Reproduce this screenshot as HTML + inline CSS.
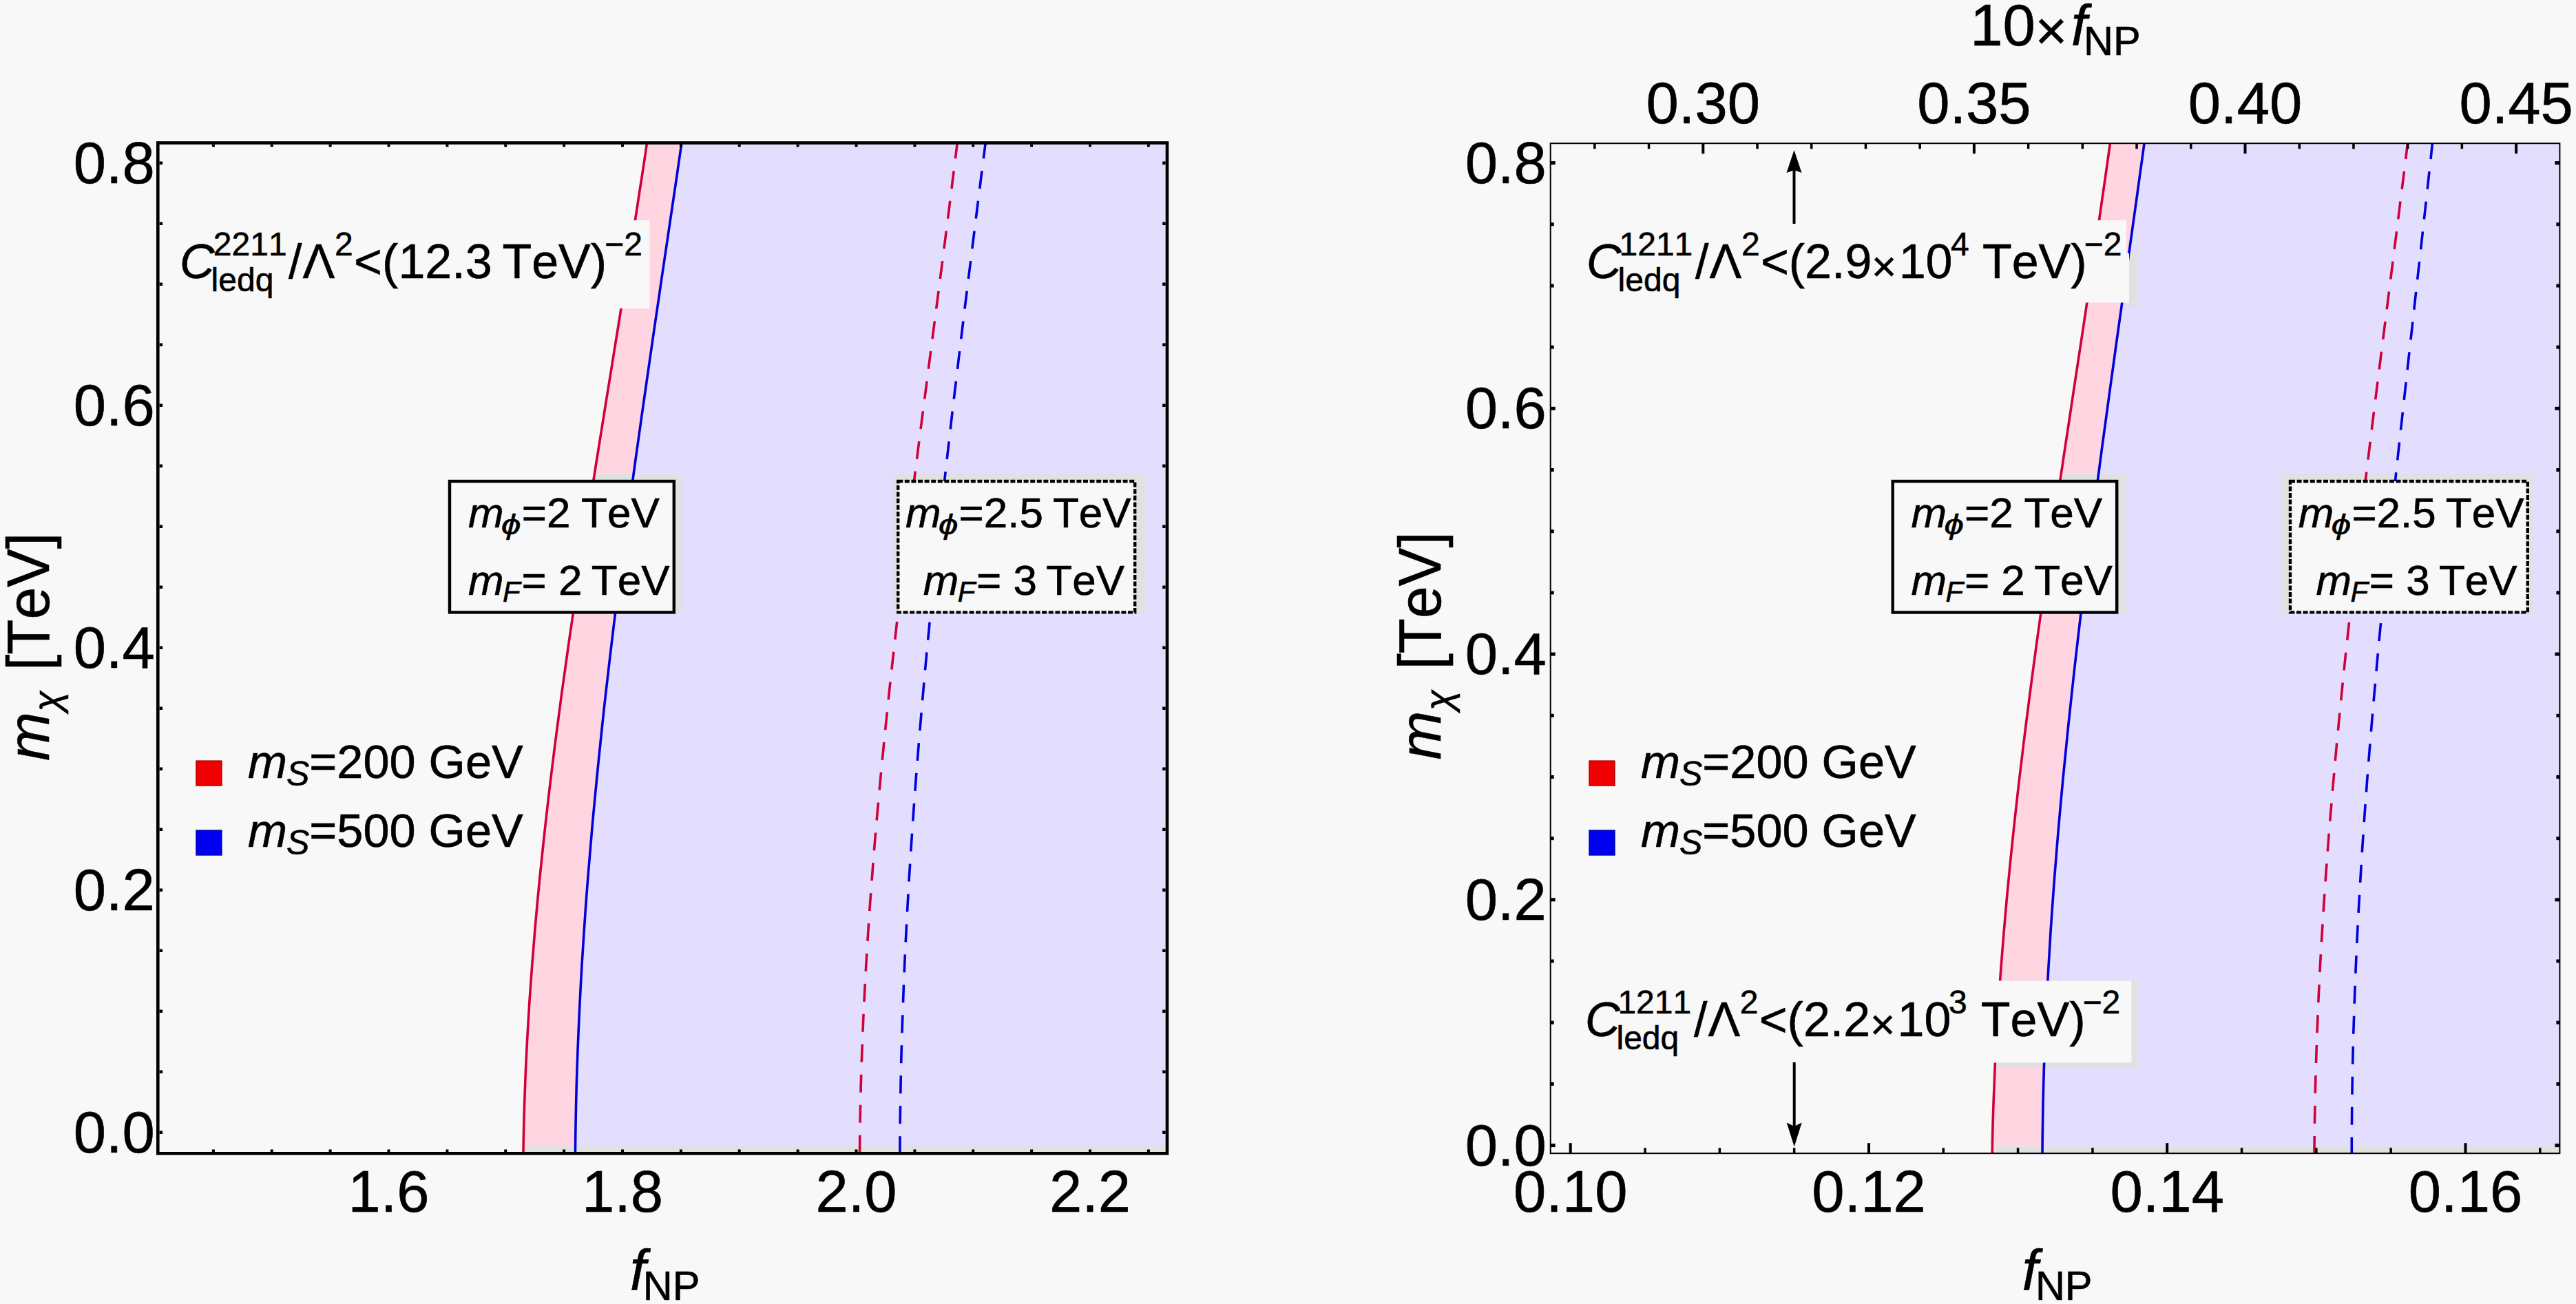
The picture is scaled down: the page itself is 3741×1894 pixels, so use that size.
<!DOCTYPE html><html><head><meta charset="utf-8"><style>html,body{margin:0;padding:0;background:#f8f8f8;overflow:hidden}svg{display:block}text{stroke:#000;stroke-width:0.6px}</style></head><body>
<svg width="3741" height="1894" viewBox="0 0 3741 1894" font-family="'Liberation Sans', sans-serif" fill="#000" style="font-kerning:none">
<rect x="0" y="0" width="3741" height="1894" fill="#f8f8f8"/>
<defs><clipPath id="clip229"><rect x="229.3" y="207.5" width="1465.7" height="1467.8"/></clipPath>
<clipPath id="fillclip229"><path d="M940.0,204.5 L936.3,229.2 L932.6,254.0 L928.8,278.7 L924.9,303.4 L921.1,328.2 L917.2,352.9 L913.2,377.7 L909.3,402.4 L905.3,427.1 L901.4,451.9 L897.4,476.6 L893.4,501.3 L889.4,526.1 L885.4,550.8 L881.4,575.6 L877.4,600.3 L873.5,625.0 L869.5,649.8 L865.6,674.5 L861.6,699.2 L857.7,724.0 L853.9,748.7 L850.0,773.5 L846.2,798.2 L842.4,822.9 L838.7,847.7 L835.0,872.4 L831.3,897.1 L827.7,921.9 L824.2,946.6 L820.7,971.4 L817.3,996.1 L813.9,1020.8 L810.6,1045.6 L807.4,1070.3 L804.3,1095.0 L801.2,1119.8 L798.2,1144.5 L795.3,1169.3 L792.5,1194.0 L789.8,1218.7 L787.1,1243.5 L784.6,1268.2 L782.1,1292.9 L779.8,1317.7 L777.6,1342.4 L775.5,1367.2 L773.5,1391.9 L771.6,1416.6 L769.9,1441.4 L768.2,1466.1 L766.7,1490.8 L765.4,1515.6 L764.1,1540.3 L763.0,1565.1 L762.1,1589.8 L761.3,1614.5 L760.6,1639.3 L760.1,1664.0 L1698.0,1664.0 L1698.0,204.5 Z"/></clipPath></defs>
<g clip-path="url(#clip229)">
<path d="M940.0,204.5 L936.3,229.2 L932.6,254.0 L928.8,278.7 L924.9,303.4 L921.1,328.2 L917.2,352.9 L913.2,377.7 L909.3,402.4 L905.3,427.1 L901.4,451.9 L897.4,476.6 L893.4,501.3 L889.4,526.1 L885.4,550.8 L881.4,575.6 L877.4,600.3 L873.5,625.0 L869.5,649.8 L865.6,674.5 L861.6,699.2 L857.7,724.0 L853.9,748.7 L850.0,773.5 L846.2,798.2 L842.4,822.9 L838.7,847.7 L835.0,872.4 L831.3,897.1 L827.7,921.9 L824.2,946.6 L820.7,971.4 L817.3,996.1 L813.9,1020.8 L810.6,1045.6 L807.4,1070.3 L804.3,1095.0 L801.2,1119.8 L798.2,1144.5 L795.3,1169.3 L792.5,1194.0 L789.8,1218.7 L787.1,1243.5 L784.6,1268.2 L782.1,1292.9 L779.8,1317.7 L777.6,1342.4 L775.5,1367.2 L773.5,1391.9 L771.6,1416.6 L769.9,1441.4 L768.2,1466.1 L766.7,1490.8 L765.4,1515.6 L764.1,1540.3 L763.0,1565.1 L762.1,1589.8 L761.3,1614.5 L760.6,1639.3 L760.1,1664.0 L835.6,1664.0 L835.9,1639.3 L836.4,1614.5 L836.9,1589.8 L837.6,1565.1 L838.4,1540.3 L839.4,1515.6 L840.4,1490.8 L841.5,1466.1 L842.8,1441.4 L844.2,1416.6 L845.6,1391.9 L847.2,1367.2 L848.8,1342.4 L850.6,1317.7 L852.4,1292.9 L854.4,1268.2 L856.4,1243.5 L858.5,1218.7 L860.7,1194.0 L863.0,1169.3 L865.3,1144.5 L867.8,1119.8 L870.3,1095.0 L872.9,1070.3 L875.5,1045.6 L878.2,1020.8 L881.0,996.1 L883.9,971.4 L886.8,946.6 L889.7,921.9 L892.7,897.1 L895.8,872.4 L898.9,847.7 L902.1,822.9 L905.3,798.2 L908.6,773.5 L911.9,748.7 L915.2,724.0 L918.6,699.2 L922.0,674.5 L925.5,649.8 L929.0,625.0 L932.5,600.3 L936.0,575.6 L939.6,550.8 L943.1,526.1 L946.7,501.3 L950.3,476.6 L954.0,451.9 L957.6,427.1 L961.2,402.4 L964.9,377.7 L968.5,352.9 L972.2,328.2 L975.8,303.4 L979.5,278.7 L983.1,254.0 L986.8,229.2 L990.4,204.5 Z" fill="#ffd5e2"/>
<path d="M990.4,204.5 L986.8,229.2 L983.1,254.0 L979.5,278.7 L975.8,303.4 L972.2,328.2 L968.5,352.9 L964.9,377.7 L961.2,402.4 L957.6,427.1 L954.0,451.9 L950.3,476.6 L946.7,501.3 L943.1,526.1 L939.6,550.8 L936.0,575.6 L932.5,600.3 L929.0,625.0 L925.5,649.8 L922.0,674.5 L918.6,699.2 L915.2,724.0 L911.9,748.7 L908.6,773.5 L905.3,798.2 L902.1,822.9 L898.9,847.7 L895.8,872.4 L892.7,897.1 L889.7,921.9 L886.8,946.6 L883.9,971.4 L881.0,996.1 L878.2,1020.8 L875.5,1045.6 L872.9,1070.3 L870.3,1095.0 L867.8,1119.8 L865.3,1144.5 L863.0,1169.3 L860.7,1194.0 L858.5,1218.7 L856.4,1243.5 L854.4,1268.2 L852.4,1292.9 L850.6,1317.7 L848.8,1342.4 L847.2,1367.2 L845.6,1391.9 L844.2,1416.6 L842.8,1441.4 L841.5,1466.1 L840.4,1490.8 L839.4,1515.6 L838.4,1540.3 L837.6,1565.1 L836.9,1589.8 L836.4,1614.5 L835.9,1639.3 L835.6,1664.0 L1698.0,1664.0 L1698.0,204.5 Z" fill="#e3defe"/>
<rect x="760.1" y="1664.0" width="939.9" height="16.3" fill="#e1e1e1"/>
<g clip-path="url(#fillclip229)">
<rect x="642" y="688" width="349" height="204" fill="#e1e1e1"/>
<rect x="1297" y="688" width="367" height="204" fill="#e1e1e1"/>
</g>
<path d="M940.0,204.5 L936.3,229.5 L932.5,254.5 L928.6,279.4 L924.8,304.4 L920.9,329.4 L916.9,354.4 L913.0,379.4 L909.0,404.3 L905.0,429.3 L901.0,454.3 L897.0,479.3 L892.9,504.3 L888.9,529.2 L884.9,554.2 L880.8,579.2 L876.8,604.2 L872.8,629.2 L868.8,654.1 L864.8,679.1 L860.9,704.1 L856.9,729.1 L853.0,754.1 L849.1,779.0 L845.3,804.0 L841.5,829.0 L837.7,854.0 L834.0,879.0 L830.4,903.9 L826.7,928.9 L823.2,953.9 L819.7,978.9 L816.2,1003.8 L812.9,1028.8 L809.6,1053.8 L806.3,1078.8 L803.2,1103.8 L800.1,1128.7 L797.1,1153.7 L794.2,1178.7 L791.4,1203.7 L788.7,1228.7 L786.1,1253.6 L783.5,1278.6 L781.1,1303.6 L778.8,1328.6 L776.6,1353.6 L774.6,1378.5 L772.6,1403.5 L770.8,1428.5 L769.0,1453.5 L767.5,1478.5 L766.0,1503.4 L764.7,1528.4 L763.5,1553.4 L762.5,1578.4 L761.6,1603.4 L760.9,1628.3 L760.3,1653.3 L759.9,1678.3" fill="none" stroke="#d0003a" stroke-width="3.6"/>
<path d="M990.4,204.5 L986.7,229.5 L983.1,254.5 L979.4,279.4 L975.7,304.4 L972.0,329.4 L968.3,354.4 L964.6,379.4 L960.9,404.3 L957.3,429.3 L953.6,454.3 L949.9,479.3 L946.3,504.3 L942.7,529.2 L939.1,554.2 L935.5,579.2 L931.9,604.2 L928.4,629.2 L924.9,654.1 L921.4,679.1 L918.0,704.1 L914.6,729.1 L911.2,754.1 L907.9,779.0 L904.6,804.0 L901.3,829.0 L898.1,854.0 L895.0,879.0 L891.9,903.9 L888.9,928.9 L885.9,953.9 L883.0,978.9 L880.1,1003.8 L877.3,1028.8 L874.6,1053.8 L872.0,1078.8 L869.4,1103.8 L866.9,1128.7 L864.5,1153.7 L862.1,1178.7 L859.8,1203.7 L857.7,1228.7 L855.6,1253.6 L853.5,1278.6 L851.6,1303.6 L849.8,1328.6 L848.1,1353.6 L846.5,1378.5 L844.9,1403.5 L843.5,1428.5 L842.2,1453.5 L841.0,1478.5 L839.9,1503.4 L838.9,1528.4 L838.0,1553.4 L837.2,1578.4 L836.6,1603.4 L836.1,1628.3 L835.7,1653.3 L835.4,1678.3" fill="none" stroke="#0000dc" stroke-width="3.6"/>
<path d="M1390.6,204.5 L1387.5,229.5 L1384.4,254.5 L1381.3,279.4 L1378.2,304.4 L1375.0,329.4 L1371.8,354.4 L1368.6,379.4 L1365.4,404.3 L1362.2,429.3 L1358.9,454.3 L1355.7,479.3 L1352.5,504.3 L1349.2,529.2 L1346.0,554.2 L1342.8,579.2 L1339.5,604.2 L1336.3,629.2 L1333.1,654.1 L1330.0,679.1 L1326.8,704.1 L1323.7,729.1 L1320.6,754.1 L1317.5,779.0 L1314.5,804.0 L1311.4,829.0 L1308.5,854.0 L1305.5,879.0 L1302.6,903.9 L1299.8,928.9 L1297.0,953.9 L1294.2,978.9 L1291.5,1003.8 L1288.9,1028.8 L1286.3,1053.8 L1283.8,1078.8 L1281.3,1103.8 L1278.9,1128.7 L1276.6,1153.7 L1274.3,1178.7 L1272.1,1203.7 L1270.0,1228.7 L1268.0,1253.6 L1266.1,1278.6 L1264.2,1303.6 L1262.4,1328.6 L1260.8,1353.6 L1259.2,1378.5 L1257.7,1403.5 L1256.3,1428.5 L1255.0,1453.5 L1253.8,1478.5 L1252.8,1503.4 L1251.8,1528.4 L1250.9,1553.4 L1250.2,1578.4 L1249.6,1603.4 L1249.1,1628.3 L1248.7,1653.3 L1248.5,1678.3" fill="none" stroke="#d0003a" stroke-width="3.6" stroke-dasharray="26 18"/>
<path d="M1431.6,204.5 L1428.4,229.5 L1425.2,254.5 L1422.1,279.4 L1418.9,304.4 L1415.8,329.4 L1412.7,354.4 L1409.6,379.4 L1406.5,404.3 L1403.4,429.3 L1400.3,454.3 L1397.3,479.3 L1394.3,504.3 L1391.3,529.2 L1388.3,554.2 L1385.3,579.2 L1382.4,604.2 L1379.5,629.2 L1376.7,654.1 L1373.8,679.1 L1371.0,704.1 L1368.3,729.1 L1365.6,754.1 L1362.9,779.0 L1360.2,804.0 L1357.6,829.0 L1355.1,854.0 L1352.6,879.0 L1350.1,903.9 L1347.7,928.9 L1345.3,953.9 L1343.0,978.9 L1340.8,1003.8 L1338.6,1028.8 L1336.5,1053.8 L1334.4,1078.8 L1332.4,1103.8 L1330.4,1128.7 L1328.5,1153.7 L1326.7,1178.7 L1325.0,1203.7 L1323.3,1228.7 L1321.7,1253.6 L1320.1,1278.6 L1318.7,1303.6 L1317.3,1328.6 L1316.0,1353.6 L1314.7,1378.5 L1313.6,1403.5 L1312.5,1428.5 L1311.6,1453.5 L1310.7,1478.5 L1309.9,1503.4 L1309.1,1528.4 L1308.5,1553.4 L1308.0,1578.4 L1307.6,1603.4 L1307.2,1628.3 L1307.0,1653.3 L1306.9,1678.3" fill="none" stroke="#0000dc" stroke-width="3.6" stroke-dasharray="26 18"/>
<rect x="255" y="320" width="688.5" height="128" fill="#f8f8f8"/>
</g>
<defs><clipPath id="clip2251"><rect x="2251.7" y="208.2" width="1465.7" height="1467.0"/></clipPath>
<clipPath id="fillclip2251"><path d="M3064.8,205.2 L3061.3,229.9 L3057.9,254.6 L3054.3,279.4 L3050.8,304.1 L3047.2,328.8 L3043.6,353.5 L3039.9,378.2 L3036.3,402.9 L3032.6,427.7 L3028.9,452.4 L3025.2,477.1 L3021.4,501.8 L3017.7,526.5 L3013.9,551.3 L3010.2,576.0 L3006.5,600.7 L3002.7,625.4 L2999.0,650.1 L2995.3,674.9 L2991.6,699.6 L2987.9,724.3 L2984.2,749.0 L2980.6,773.7 L2977.0,798.4 L2973.4,823.2 L2969.8,847.9 L2966.3,872.6 L2962.8,897.3 L2959.4,922.0 L2956.0,946.8 L2952.7,971.5 L2949.4,996.2 L2946.2,1020.9 L2943.1,1045.6 L2940.0,1070.4 L2937.0,1095.1 L2934.0,1119.8 L2931.1,1144.5 L2928.3,1169.2 L2925.6,1193.9 L2922.9,1218.7 L2920.4,1243.4 L2917.9,1268.1 L2915.6,1292.8 L2913.3,1317.5 L2911.1,1342.3 L2909.0,1367.0 L2907.1,1391.7 L2905.2,1416.4 L2903.5,1441.1 L2901.8,1465.9 L2900.3,1490.6 L2898.9,1515.3 L2897.7,1540.0 L2896.5,1564.7 L2895.5,1589.4 L2894.7,1614.2 L2893.9,1638.9 L2893.3,1663.6 L3720.4,1663.6 L3720.4,205.2 Z"/></clipPath></defs>
<g clip-path="url(#clip2251)">
<path d="M3064.8,205.2 L3061.3,229.9 L3057.9,254.6 L3054.3,279.4 L3050.8,304.1 L3047.2,328.8 L3043.6,353.5 L3039.9,378.2 L3036.3,402.9 L3032.6,427.7 L3028.9,452.4 L3025.2,477.1 L3021.4,501.8 L3017.7,526.5 L3013.9,551.3 L3010.2,576.0 L3006.5,600.7 L3002.7,625.4 L2999.0,650.1 L2995.3,674.9 L2991.6,699.6 L2987.9,724.3 L2984.2,749.0 L2980.6,773.7 L2977.0,798.4 L2973.4,823.2 L2969.8,847.9 L2966.3,872.6 L2962.8,897.3 L2959.4,922.0 L2956.0,946.8 L2952.7,971.5 L2949.4,996.2 L2946.2,1020.9 L2943.1,1045.6 L2940.0,1070.4 L2937.0,1095.1 L2934.0,1119.8 L2931.1,1144.5 L2928.3,1169.2 L2925.6,1193.9 L2922.9,1218.7 L2920.4,1243.4 L2917.9,1268.1 L2915.6,1292.8 L2913.3,1317.5 L2911.1,1342.3 L2909.0,1367.0 L2907.1,1391.7 L2905.2,1416.4 L2903.5,1441.1 L2901.8,1465.9 L2900.3,1490.6 L2898.9,1515.3 L2897.7,1540.0 L2896.5,1564.7 L2895.5,1589.4 L2894.7,1614.2 L2893.9,1638.9 L2893.3,1663.6 L2966.1,1663.6 L2966.4,1638.9 L2966.8,1614.2 L2967.3,1589.4 L2968.0,1564.7 L2968.8,1540.0 L2969.7,1515.3 L2970.7,1490.6 L2971.8,1465.9 L2973.0,1441.1 L2974.3,1416.4 L2975.7,1391.7 L2977.2,1367.0 L2978.8,1342.3 L2980.5,1317.5 L2982.3,1292.8 L2984.2,1268.1 L2986.1,1243.4 L2988.2,1218.7 L2990.3,1193.9 L2992.5,1169.2 L2994.8,1144.5 L2997.1,1119.8 L2999.5,1095.1 L3002.0,1070.4 L3004.6,1045.6 L3007.2,1020.9 L3009.9,996.2 L3012.7,971.5 L3015.5,946.8 L3018.3,922.0 L3021.2,897.3 L3024.2,872.6 L3027.2,847.9 L3030.3,823.2 L3033.4,798.4 L3036.5,773.7 L3039.7,749.0 L3042.9,724.3 L3046.2,699.6 L3049.4,674.9 L3052.7,650.1 L3056.1,625.4 L3059.4,600.7 L3062.8,576.0 L3066.2,551.3 L3069.6,526.5 L3073.0,501.8 L3076.5,477.1 L3079.9,452.4 L3083.4,427.7 L3086.9,402.9 L3090.3,378.2 L3093.8,353.5 L3097.2,328.8 L3100.7,304.1 L3104.2,279.4 L3107.6,254.6 L3111.0,229.9 L3114.4,205.2 Z" fill="#ffd5e2"/>
<path d="M3114.4,205.2 L3111.0,229.9 L3107.6,254.6 L3104.2,279.4 L3100.7,304.1 L3097.2,328.8 L3093.8,353.5 L3090.3,378.2 L3086.9,402.9 L3083.4,427.7 L3079.9,452.4 L3076.5,477.1 L3073.0,501.8 L3069.6,526.5 L3066.2,551.3 L3062.8,576.0 L3059.4,600.7 L3056.1,625.4 L3052.7,650.1 L3049.4,674.9 L3046.2,699.6 L3042.9,724.3 L3039.7,749.0 L3036.5,773.7 L3033.4,798.4 L3030.3,823.2 L3027.2,847.9 L3024.2,872.6 L3021.2,897.3 L3018.3,922.0 L3015.5,946.8 L3012.7,971.5 L3009.9,996.2 L3007.2,1020.9 L3004.6,1045.6 L3002.0,1070.4 L2999.5,1095.1 L2997.1,1119.8 L2994.8,1144.5 L2992.5,1169.2 L2990.3,1193.9 L2988.2,1218.7 L2986.1,1243.4 L2984.2,1268.1 L2982.3,1292.8 L2980.5,1317.5 L2978.8,1342.3 L2977.2,1367.0 L2975.7,1391.7 L2974.3,1416.4 L2973.0,1441.1 L2971.8,1465.9 L2970.7,1490.6 L2969.7,1515.3 L2968.8,1540.0 L2968.0,1564.7 L2967.3,1589.4 L2966.8,1614.2 L2966.4,1638.9 L2966.1,1663.6 L3720.4,1663.6 L3720.4,205.2 Z" fill="#e3defe"/>
<rect x="2893.3" y="1663.6" width="829.1" height="16.6" fill="#e1e1e1"/>
<g clip-path="url(#fillclip2251)">
<rect x="2738" y="688" width="350" height="204" fill="#e1e1e1"/>
<rect x="3312" y="688" width="367" height="204" fill="#e1e1e1"/>
<rect x="3092" y="368" width="11.5" height="79" fill="#e1e1e1"/>
<rect x="2290" y="1424" width="814" height="126" fill="#e1e1e1"/>
</g>
<path d="M3064.8,205.2 L3061.3,230.2 L3057.8,255.1 L3054.2,280.1 L3050.6,305.1 L3047.0,330.0 L3043.4,355.0 L3039.7,380.0 L3036.0,404.9 L3032.3,429.9 L3028.5,454.9 L3024.8,479.8 L3021.0,504.8 L3017.2,529.8 L3013.4,554.7 L3009.6,579.7 L3005.9,604.7 L3002.1,629.6 L2998.3,654.6 L2994.6,679.6 L2990.8,704.5 L2987.1,729.5 L2983.4,754.5 L2979.7,779.4 L2976.1,804.4 L2972.5,829.4 L2968.9,854.3 L2965.4,879.3 L2961.9,904.3 L2958.4,929.2 L2955.0,954.2 L2951.7,979.1 L2948.4,1004.1 L2945.2,1029.1 L2942.0,1054.0 L2938.9,1079.0 L2935.9,1104.0 L2932.9,1128.9 L2930.0,1153.9 L2927.2,1178.9 L2924.5,1203.8 L2921.9,1228.8 L2919.3,1253.8 L2916.9,1278.7 L2914.5,1303.7 L2912.3,1328.7 L2910.1,1353.6 L2908.1,1378.6 L2906.1,1403.6 L2904.3,1428.5 L2902.6,1453.5 L2901.0,1478.5 L2899.6,1503.4 L2898.2,1528.4 L2897.0,1553.4 L2896.0,1578.3 L2895.0,1603.3 L2894.2,1628.3 L2893.6,1653.2 L2893.1,1678.2" fill="none" stroke="#d0003a" stroke-width="3.6"/>
<path d="M3114.4,205.2 L3111.0,230.2 L3107.5,255.1 L3104.1,280.1 L3100.6,305.1 L3097.1,330.0 L3093.6,355.0 L3090.1,380.0 L3086.6,404.9 L3083.1,429.9 L3079.6,454.9 L3076.1,479.8 L3072.6,504.8 L3069.2,529.8 L3065.7,554.7 L3062.3,579.7 L3058.9,604.7 L3055.5,629.6 L3052.1,654.6 L3048.8,679.6 L3045.5,704.5 L3042.2,729.5 L3039.0,754.5 L3035.8,779.4 L3032.6,804.4 L3029.5,829.4 L3026.4,854.3 L3023.4,879.3 L3020.4,904.3 L3017.5,929.2 L3014.6,954.2 L3011.8,979.1 L3009.1,1004.1 L3006.4,1029.1 L3003.7,1054.0 L3001.2,1079.0 L2998.7,1104.0 L2996.2,1128.9 L2993.9,1153.9 L2991.6,1178.9 L2989.4,1203.8 L2987.3,1228.8 L2985.3,1253.8 L2983.3,1278.7 L2981.5,1303.7 L2979.7,1328.7 L2978.0,1353.6 L2976.5,1378.6 L2975.0,1403.6 L2973.6,1428.5 L2972.3,1453.5 L2971.2,1478.5 L2970.1,1503.4 L2969.2,1528.4 L2968.3,1553.4 L2967.6,1578.3 L2967.0,1603.3 L2966.6,1628.3 L2966.2,1653.2 L2966.0,1678.2" fill="none" stroke="#0000dc" stroke-width="3.6"/>
<path d="M3496.8,205.2 L3493.8,230.2 L3490.7,255.1 L3487.5,280.1 L3484.4,305.1 L3481.3,330.0 L3478.1,355.0 L3475.0,380.0 L3471.8,404.9 L3468.7,429.9 L3465.5,454.9 L3462.4,479.8 L3459.2,504.8 L3456.1,529.8 L3452.9,554.7 L3449.8,579.7 L3446.7,604.7 L3443.6,629.6 L3440.6,654.6 L3437.5,679.6 L3434.5,704.5 L3431.5,729.5 L3428.5,754.5 L3425.6,779.4 L3422.7,804.4 L3419.8,829.4 L3417.0,854.3 L3414.2,879.3 L3411.5,904.3 L3408.8,929.2 L3406.1,954.2 L3403.5,979.1 L3401.0,1004.1 L3398.5,1029.1 L3396.1,1054.0 L3393.7,1079.0 L3391.4,1104.0 L3389.2,1128.9 L3387.0,1153.9 L3384.9,1178.9 L3382.8,1203.8 L3380.9,1228.8 L3379.0,1253.8 L3377.2,1278.7 L3375.5,1303.7 L3373.8,1328.7 L3372.3,1353.6 L3370.8,1378.6 L3369.4,1403.6 L3368.1,1428.5 L3366.9,1453.5 L3365.9,1478.5 L3364.9,1503.4 L3364.0,1528.4 L3363.2,1553.4 L3362.5,1578.3 L3362.0,1603.3 L3361.5,1628.3 L3361.2,1653.2 L3360.9,1678.2" fill="none" stroke="#d0003a" stroke-width="3.6" stroke-dasharray="26 18"/>
<path d="M3532.7,205.2 L3530.1,230.2 L3527.3,255.1 L3524.6,280.1 L3521.9,305.1 L3519.1,330.0 L3516.4,355.0 L3513.6,380.0 L3510.8,404.9 L3508.0,429.9 L3505.3,454.9 L3502.5,479.8 L3499.7,504.8 L3496.9,529.8 L3494.2,554.7 L3491.4,579.7 L3488.7,604.7 L3485.9,629.6 L3483.2,654.6 L3480.5,679.6 L3477.9,704.5 L3475.2,729.5 L3472.6,754.5 L3470.0,779.4 L3467.5,804.4 L3464.9,829.4 L3462.4,854.3 L3460.0,879.3 L3457.6,904.3 L3455.2,929.2 L3452.9,954.2 L3450.6,979.1 L3448.4,1004.1 L3446.2,1029.1 L3444.1,1054.0 L3442.0,1079.0 L3440.0,1104.0 L3438.0,1128.9 L3436.2,1153.9 L3434.3,1178.9 L3432.6,1203.8 L3430.9,1228.8 L3429.3,1253.8 L3427.8,1278.7 L3426.3,1303.7 L3424.9,1328.7 L3423.6,1353.6 L3422.4,1378.6 L3421.3,1403.6 L3420.3,1428.5 L3419.3,1453.5 L3418.5,1478.5 L3417.7,1503.4 L3417.1,1528.4 L3416.5,1553.4 L3416.1,1578.3 L3415.7,1603.3 L3415.5,1628.3 L3415.3,1653.2 L3415.3,1678.2" fill="none" stroke="#0000dc" stroke-width="3.6" stroke-dasharray="26 18"/>
<rect x="2290" y="320" width="798" height="48" fill="#f8f8f8"/>
<rect x="2290" y="368" width="802" height="71.5" fill="#f8f8f8"/>
<rect x="2290" y="1424.5" width="805.5" height="119" fill="#f8f8f8"/>
</g>
<rect x="229.3" y="207.5" width="1465.7" height="1467.8" fill="none" stroke="#000" stroke-width="4.6"/>
<rect x="307.9" y="1669.5" width="4" height="3.5"/>
<rect x="307.9" y="209.8" width="4" height="3.5"/>
<rect x="392.7" y="1669.5" width="4" height="3.5"/>
<rect x="392.7" y="209.8" width="4" height="3.5"/>
<rect x="477.6" y="1669.5" width="4" height="3.5"/>
<rect x="477.6" y="209.8" width="4" height="3.5"/>
<rect x="562.5" y="1669.5" width="4" height="3.5"/>
<rect x="562.5" y="209.8" width="4" height="3.5"/>
<rect x="647.4" y="1669.5" width="4" height="3.5"/>
<rect x="647.4" y="209.8" width="4" height="3.5"/>
<rect x="732.2" y="1669.5" width="4" height="3.5"/>
<rect x="732.2" y="209.8" width="4" height="3.5"/>
<rect x="817.1" y="1669.5" width="4" height="3.5"/>
<rect x="817.1" y="209.8" width="4" height="3.5"/>
<rect x="902.0" y="1669.5" width="4" height="3.5"/>
<rect x="902.0" y="209.8" width="4" height="3.5"/>
<rect x="986.9" y="1669.5" width="4" height="3.5"/>
<rect x="986.9" y="209.8" width="4" height="3.5"/>
<rect x="1071.7" y="1669.5" width="4" height="3.5"/>
<rect x="1071.7" y="209.8" width="4" height="3.5"/>
<rect x="1156.6" y="1669.5" width="4" height="3.5"/>
<rect x="1156.6" y="209.8" width="4" height="3.5"/>
<rect x="1241.5" y="1669.5" width="4" height="3.5"/>
<rect x="1241.5" y="209.8" width="4" height="3.5"/>
<rect x="1326.4" y="1669.5" width="4" height="3.5"/>
<rect x="1326.4" y="209.8" width="4" height="3.5"/>
<rect x="1411.2" y="1669.5" width="4" height="3.5"/>
<rect x="1411.2" y="209.8" width="4" height="3.5"/>
<rect x="1496.1" y="1669.5" width="4" height="3.5"/>
<rect x="1496.1" y="209.8" width="4" height="3.5"/>
<rect x="1581.0" y="1669.5" width="4" height="3.5"/>
<rect x="1581.0" y="209.8" width="4" height="3.5"/>
<rect x="1665.9" y="1669.5" width="4" height="3.5"/>
<rect x="1665.9" y="209.8" width="4" height="3.5"/>
<rect x="231.6" y="1642.5" width="4.5" height="4.5"/>
<rect x="1688.2" y="1642.5" width="4.5" height="4.5"/>
<rect x="231.6" y="1554.5" width="4.5" height="4.5"/>
<rect x="1688.2" y="1554.5" width="4.5" height="4.5"/>
<rect x="231.6" y="1466.5" width="4.5" height="4.5"/>
<rect x="1688.2" y="1466.5" width="4.5" height="4.5"/>
<rect x="231.6" y="1378.5" width="4.5" height="4.5"/>
<rect x="1688.2" y="1378.5" width="4.5" height="4.5"/>
<rect x="231.6" y="1290.5" width="4.5" height="4.5"/>
<rect x="1688.2" y="1290.5" width="4.5" height="4.5"/>
<rect x="231.6" y="1202.5" width="4.5" height="4.5"/>
<rect x="1688.2" y="1202.5" width="4.5" height="4.5"/>
<rect x="231.6" y="1114.5" width="4.5" height="4.5"/>
<rect x="1688.2" y="1114.5" width="4.5" height="4.5"/>
<rect x="231.6" y="1026.5" width="4.5" height="4.5"/>
<rect x="1688.2" y="1026.5" width="4.5" height="4.5"/>
<rect x="231.6" y="938.5" width="4.5" height="4.5"/>
<rect x="1688.2" y="938.5" width="4.5" height="4.5"/>
<rect x="231.6" y="850.5" width="4.5" height="4.5"/>
<rect x="1688.2" y="850.5" width="4.5" height="4.5"/>
<rect x="231.6" y="762.5" width="4.5" height="4.5"/>
<rect x="1688.2" y="762.5" width="4.5" height="4.5"/>
<rect x="231.6" y="674.5" width="4.5" height="4.5"/>
<rect x="1688.2" y="674.5" width="4.5" height="4.5"/>
<rect x="231.6" y="586.5" width="4.5" height="4.5"/>
<rect x="1688.2" y="586.5" width="4.5" height="4.5"/>
<rect x="231.6" y="498.5" width="4.5" height="4.5"/>
<rect x="1688.2" y="498.5" width="4.5" height="4.5"/>
<rect x="231.6" y="410.5" width="4.5" height="4.5"/>
<rect x="1688.2" y="410.5" width="4.5" height="4.5"/>
<rect x="231.6" y="322.5" width="4.5" height="4.5"/>
<rect x="1688.2" y="322.5" width="4.5" height="4.5"/>
<rect x="231.6" y="234.5" width="4.5" height="4.5"/>
<rect x="1688.2" y="234.5" width="4.5" height="4.5"/>
<text x="224.8" y="1674.0" font-size="85" text-anchor="end">0.0</text>
<text x="224.8" y="1322.0" font-size="85" text-anchor="end">0.2</text>
<text x="224.8" y="970.0" font-size="85" text-anchor="end">0.4</text>
<text x="224.8" y="618.0" font-size="85" text-anchor="end">0.6</text>
<text x="224.8" y="266.0" font-size="85" text-anchor="end">0.8</text>
<text x="564.5" y="1760.3" font-size="85" text-anchor="middle">1.6</text>
<text x="904.0" y="1760.3" font-size="85" text-anchor="middle">1.8</text>
<text x="1243.5" y="1760.3" font-size="85" text-anchor="middle">2.0</text>
<text x="1583.0" y="1760.3" font-size="85" text-anchor="middle">2.2</text>
<rect x="2251.7" y="208.2" width="1465.7" height="1467.0" fill="none" stroke="#000" stroke-width="2.0"/>
<rect x="2278.7" y="1660.2" width="4" height="15"/>
<rect x="2387.3" y="1667.2" width="3.5" height="8"/>
<rect x="2495.6" y="1667.2" width="3.5" height="8"/>
<rect x="2603.9" y="1667.2" width="3.5" height="8"/>
<rect x="2712.0" y="1660.2" width="4" height="15"/>
<rect x="2820.5" y="1667.2" width="3.5" height="8"/>
<rect x="2928.8" y="1667.2" width="3.5" height="8"/>
<rect x="3037.2" y="1667.2" width="3.5" height="8"/>
<rect x="3145.2" y="1660.2" width="4" height="15"/>
<rect x="3253.8" y="1667.2" width="3.5" height="8"/>
<rect x="3362.1" y="1667.2" width="3.5" height="8"/>
<rect x="3470.4" y="1667.2" width="3.5" height="8"/>
<rect x="3578.5" y="1660.2" width="4" height="15"/>
<rect x="3687.0" y="1667.2" width="3.5" height="8"/>
<rect x="2314.1" y="208.2" width="3.5" height="8"/>
<rect x="2392.8" y="208.2" width="3.5" height="8"/>
<rect x="2471.3" y="208.2" width="4" height="15"/>
<rect x="2550.3" y="208.2" width="3.5" height="8"/>
<rect x="2629.0" y="208.2" width="3.5" height="8"/>
<rect x="2707.7" y="208.2" width="3.5" height="8"/>
<rect x="2786.4" y="208.2" width="3.5" height="8"/>
<rect x="2864.9" y="208.2" width="4" height="15"/>
<rect x="2943.9" y="208.2" width="3.5" height="8"/>
<rect x="3022.6" y="208.2" width="3.5" height="8"/>
<rect x="3101.3" y="208.2" width="3.5" height="8"/>
<rect x="3180.0" y="208.2" width="3.5" height="8"/>
<rect x="3258.5" y="208.2" width="4" height="15"/>
<rect x="3337.5" y="208.2" width="3.5" height="8"/>
<rect x="3416.2" y="208.2" width="3.5" height="8"/>
<rect x="3494.9" y="208.2" width="3.5" height="8"/>
<rect x="3573.6" y="208.2" width="3.5" height="8"/>
<rect x="3652.1" y="208.2" width="4" height="15"/>
<rect x="2251.7" y="1661.1" width="7" height="5"/>
<rect x="3710.4" y="1661.1" width="7" height="5"/>
<rect x="2251.7" y="1571.9" width="5" height="5"/>
<rect x="3712.4" y="1571.9" width="5" height="5"/>
<rect x="2251.7" y="1482.7" width="5" height="5"/>
<rect x="3712.4" y="1482.7" width="5" height="5"/>
<rect x="2251.7" y="1393.5" width="5" height="5"/>
<rect x="3712.4" y="1393.5" width="5" height="5"/>
<rect x="2251.7" y="1304.3" width="7" height="5"/>
<rect x="3710.4" y="1304.3" width="7" height="5"/>
<rect x="2251.7" y="1215.2" width="5" height="5"/>
<rect x="3712.4" y="1215.2" width="5" height="5"/>
<rect x="2251.7" y="1126.0" width="5" height="5"/>
<rect x="3712.4" y="1126.0" width="5" height="5"/>
<rect x="2251.7" y="1036.8" width="5" height="5"/>
<rect x="3712.4" y="1036.8" width="5" height="5"/>
<rect x="2251.7" y="947.6" width="7" height="5"/>
<rect x="3710.4" y="947.6" width="7" height="5"/>
<rect x="2251.7" y="858.4" width="5" height="5"/>
<rect x="3712.4" y="858.4" width="5" height="5"/>
<rect x="2251.7" y="769.2" width="5" height="5"/>
<rect x="3712.4" y="769.2" width="5" height="5"/>
<rect x="2251.7" y="680.0" width="5" height="5"/>
<rect x="3712.4" y="680.0" width="5" height="5"/>
<rect x="2251.7" y="590.8" width="7" height="5"/>
<rect x="3710.4" y="590.8" width="7" height="5"/>
<rect x="2251.7" y="501.7" width="5" height="5"/>
<rect x="3712.4" y="501.7" width="5" height="5"/>
<rect x="2251.7" y="412.5" width="5" height="5"/>
<rect x="3712.4" y="412.5" width="5" height="5"/>
<rect x="2251.7" y="323.3" width="5" height="5"/>
<rect x="3712.4" y="323.3" width="5" height="5"/>
<rect x="2251.7" y="234.1" width="7" height="5"/>
<rect x="3710.4" y="234.1" width="7" height="5"/>
<text x="2245.9" y="1692.7" font-size="85" text-anchor="end">0.0</text>
<text x="2245.9" y="1335.9" font-size="85" text-anchor="end">0.2</text>
<text x="2245.9" y="979.2" font-size="85" text-anchor="end">0.4</text>
<text x="2245.9" y="622.4" font-size="85" text-anchor="end">0.6</text>
<text x="2245.9" y="265.7" font-size="85" text-anchor="end">0.8</text>
<text x="2280.7" y="1760.3" font-size="85" text-anchor="middle">0.10</text>
<text x="2714.0" y="1760.3" font-size="85" text-anchor="middle">0.12</text>
<text x="3147.2" y="1760.3" font-size="85" text-anchor="middle">0.14</text>
<text x="3580.5" y="1760.3" font-size="85" text-anchor="middle">0.16</text>
<text x="2473.3" y="179.0" font-size="85" text-anchor="middle">0.30</text>
<text x="2866.9" y="179.0" font-size="85" text-anchor="middle">0.35</text>
<text x="3260.5" y="179.0" font-size="85" text-anchor="middle">0.40</text>
<text x="3654.1" y="179.0" font-size="85" text-anchor="middle">0.45</text>
<text x="914.8" y="1874.0" font-size="83" font-style="italic">f</text><text x="933.7" y="1888.4" font-size="59.5">NP</text>
<text x="2936.5" y="1874.0" font-size="83" font-style="italic">f</text><text x="2955.9" y="1888.4" font-size="59.5">NP</text>
<text x="2861.2" y="65.5" font-size="85">10</text>
<text x="2955.5" y="71.5" font-size="80">×</text>
<text x="3007.7" y="65.5" font-size="83" font-style="italic">f</text><text x="3026.1" y="79.8" font-size="59.5">NP</text>
<g transform="translate(71,1103.5) rotate(-90)"><text x="-1.4" y="0" font-size="85" font-style="italic">m</text><text x="70" y="15.5" font-size="55" font-style="italic">χ</text><text transform="translate(129.5,0) scale(0.952,1)" font-size="88">[TeV]</text></g>
<g transform="translate(2092,1102) rotate(-90)"><text x="-1.4" y="0" font-size="85" font-style="italic">m</text><text x="70" y="15.5" font-size="55" font-style="italic">χ</text><text transform="translate(129.5,0) scale(0.952,1)" font-size="88">[TeV]</text></g>
<text x="261.1" y="404.0" font-size="70" font-style="italic">C</text>
<text x="309.8" y="370.9" font-size="48">2211</text>
<text x="306.6" y="422.7" font-size="48">ledq</text>
<text x="419.0" y="404.0" font-size="70">/</text>
<text x="439.5" y="404.0" font-size="70">Λ</text>
<text x="485.9" y="370.9" font-size="48">2</text>
<text x="513.9" y="404.0" font-size="70"><</text>
<text x="555.1" y="404.0" font-size="70">(12.3</text>
<text x="729.4" y="404.0" font-size="70">TeV)</text>
<text x="878.1" y="370.9" font-size="48">−2</text>
<text x="2304.1" y="403.8" font-size="70" font-style="italic">C</text>
<text x="2351.5" y="370.7" font-size="48">1211</text>
<text x="2349.6" y="422.5" font-size="48">ledq</text>
<text x="2462.0" y="403.8" font-size="70">/</text>
<text x="2482.5" y="403.8" font-size="70">Λ</text>
<text x="2528.9" y="370.7" font-size="48">2</text>
<text x="2556.9" y="403.8" font-size="70"><</text>
<text x="2597.7" y="403.8" font-size="70">(2.9</text>
<text x="2718.0" y="408.3" font-size="62">×</text>
<text x="2757.7" y="403.8" font-size="70">10</text>
<text x="2832.9" y="370.7" font-size="48">4</text>
<text x="2878.9" y="403.8" font-size="70">TeV)</text>
<text x="3026.6" y="370.7" font-size="48">−2</text>
<text x="2302.0" y="1504.8" font-size="70" font-style="italic">C</text>
<text x="2349.4" y="1471.7" font-size="48">1211</text>
<text x="2347.5" y="1523.5" font-size="48">ledq</text>
<text x="2459.9" y="1504.8" font-size="70">/</text>
<text x="2480.4" y="1504.8" font-size="70">Λ</text>
<text x="2526.8" y="1471.7" font-size="48">2</text>
<text x="2554.8" y="1504.8" font-size="70"><</text>
<text x="2595.6" y="1504.8" font-size="70">(2.2</text>
<text x="2715.9" y="1509.3" font-size="62">×</text>
<text x="2755.6" y="1504.8" font-size="70">10</text>
<text x="2830.1" y="1471.7" font-size="48">3</text>
<text x="2876.8" y="1504.8" font-size="70">TeV)</text>
<text x="3024.5" y="1471.7" font-size="48">−2</text>
<rect x="2603.5" y="245" width="4" height="80"/>
<path d="M2605.5,218 L2616.5,251 L2605.5,247 L2594.5,251 Z"/>
<rect x="2603.7" y="1543" width="4" height="95"/>
<path d="M2605.7,1665.5 L2616.7,1630.6 L2605.7,1636 L2594.7,1630.6 Z"/>
<rect x="653.0" y="699.0" width="325.8" height="190.4" fill="#f8f8f8" stroke="#000" stroke-width="4.4"/>
<text x="680.1" y="765.5" font-size="62" font-style="italic">m</text>
<text transform="translate(728.1,775.6) scale(1.25,1)" font-size="40.8" font-style="italic">ϕ</text>
<text x="757.7" y="765.5" font-size="62">=2</text>
<text x="844.1" y="765.5" font-size="62">TeV</text>
<text x="680.1" y="864.3" font-size="62" font-style="italic">m</text>
<text x="730.1" y="874.3" font-size="42" font-style="italic">F</text>
<text x="757.5" y="864.3" font-size="62">= 2</text>
<text x="858.8" y="864.3" font-size="62">TeV</text>
<rect x="1304.2" y="699.0" width="344.0" height="190.4" fill="#f8f8f8" stroke="#000" stroke-width="4.4" stroke-dasharray="7 2.6"/>
<text x="1315.0" y="765.5" font-size="62" font-style="italic">m</text>
<text transform="translate(1363.0,775.6) scale(1.25,1)" font-size="40.8" font-style="italic">ϕ</text>
<text x="1392.6" y="765.5" font-size="62">=2.5</text>
<text x="1529.0" y="765.5" font-size="62">TeV</text>
<text x="1340.7" y="864.3" font-size="62" font-style="italic">m</text>
<text x="1390.7" y="874.3" font-size="42" font-style="italic">F</text>
<text x="1418.1" y="864.3" font-size="62">= 3</text>
<text x="1519.3" y="864.3" font-size="62">TeV</text>
<rect x="2748.7" y="699.0" width="325.5" height="190.5" fill="#f8f8f8" stroke="#000" stroke-width="4.4"/>
<text x="2775.5" y="765.5" font-size="62" font-style="italic">m</text>
<text transform="translate(2823.5,775.6) scale(1.25,1)" font-size="40.8" font-style="italic">ϕ</text>
<text x="2853.1" y="765.5" font-size="62">=2</text>
<text x="2939.5" y="765.5" font-size="62">TeV</text>
<text x="2775.5" y="864.3" font-size="62" font-style="italic">m</text>
<text x="2825.5" y="874.3" font-size="42" font-style="italic">F</text>
<text x="2852.9" y="864.3" font-size="62">= 2</text>
<text x="2954.2" y="864.3" font-size="62">TeV</text>
<rect x="3326.0" y="699.0" width="344.8" height="190.4" fill="#f8f8f8" stroke="#000" stroke-width="4.4" stroke-dasharray="7 2.6"/>
<text x="3337.8" y="765.5" font-size="62" font-style="italic">m</text>
<text transform="translate(3385.8,775.6) scale(1.25,1)" font-size="40.8" font-style="italic">ϕ</text>
<text x="3415.4" y="765.5" font-size="62">=2.5</text>
<text x="3551.8" y="765.5" font-size="62">TeV</text>
<text x="3363.4" y="864.3" font-size="62" font-style="italic">m</text>
<text x="3413.4" y="874.3" font-size="42" font-style="italic">F</text>
<text x="3440.8" y="864.3" font-size="62">= 3</text>
<text x="3542.0" y="864.3" font-size="62">TeV</text>
<rect x="285.0" y="1105.2" width="36.8" height="35.8" fill="#f00000" stroke="#b40000" stroke-width="1.6"/>
<rect x="285.0" y="1206.1" width="36.8" height="35.8" fill="#0000f0" stroke="#0000b4" stroke-width="1.6"/>
<text x="359.9" y="1129.6" font-size="68.5" font-style="italic">m</text>
<text x="416.0" y="1141.3" font-size="50" font-style="italic">S</text>
<text x="449.3" y="1129.6" font-size="68.5">=200 GeV</text>
<text x="359.9" y="1229.6" font-size="68.5" font-style="italic">m</text>
<text x="416.0" y="1241.3" font-size="50" font-style="italic">S</text>
<text x="449.3" y="1229.6" font-size="68.5">=500 GeV</text>
<rect x="2308.1" y="1105.2" width="36.8" height="35.8" fill="#f00000" stroke="#b40000" stroke-width="1.6"/>
<rect x="2308.1" y="1206.1" width="36.8" height="35.8" fill="#0000f0" stroke="#0000b4" stroke-width="1.6"/>
<text x="2382.9" y="1129.6" font-size="68.5" font-style="italic">m</text>
<text x="2439.0" y="1141.3" font-size="50" font-style="italic">S</text>
<text x="2472.3" y="1129.6" font-size="68.5">=200 GeV</text>
<text x="2382.9" y="1229.6" font-size="68.5" font-style="italic">m</text>
<text x="2439.0" y="1241.3" font-size="50" font-style="italic">S</text>
<text x="2472.3" y="1229.6" font-size="68.5">=500 GeV</text>
</svg></body></html>
